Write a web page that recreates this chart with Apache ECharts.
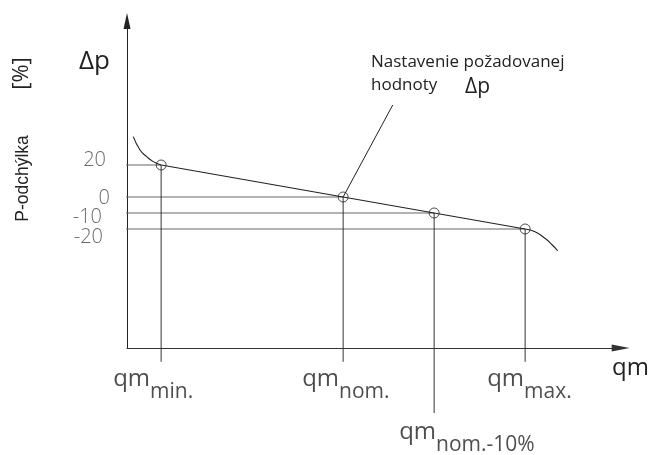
<!DOCTYPE html>
<html>
<head>
<meta charset="utf-8">
<script src="https://cdn.jsdelivr.net/npm/echarts@6/dist/echarts.min.js"></script>
<style>
html, body { margin: 0; padding: 0; background: #fff; }
#chart { width: 656px; height: 455px; }
</style>
</head>
<body>
<div id="chart"></div>
<script>
// flow rates on the qm axis (relative units) and the pressure deviation in %
const flowNames = ['min.', 'nom.', 'nom.-10%', 'max.'];
const flowPos = [3.75, 23.75, 33.75, 43.75];
const deviation = [20, 0, -10, -20];
const devTicks = ['20', '0', '-10', '-20'];
// bending ends of the characteristic
const curveHead = [[0.69, 37.7], [1.43, 29.4], [2.16, 25.2], [2.89, 22.1]];
const curveTail = [[44.84, -21.7], [45.93, -25.8], [46.74, -30.0], [47.33, -33.6]];
// upper end of the leader line for the set-point note
const noteAnchor = [29.2, 57.5];
// lower ends of the drop lines
const dropEnds = [-103, -103, -135, -103];
const guideStart = -1;
const rangeX = [0, 54.25];
const rangeY = [-94.375, 110];

const FONT = '"Open Sans", "DejaVu Sans", sans-serif';
const INK = '#222';

// label placement (pixel nudges)
const tickOffsets = [[-21, -4.5], [-17, 1], [-25, 4.5], [-24, 8]];
const flowOffsets = [[-48, 7], [-41, 7], [-35, 60], [-38, 7]];

const points = flowPos.map((x, i) => [x, deviation[i]]);

const series = [];

// horizontal guides from the deviation scale to each point
points.forEach((p) => {
  series.push({
    type: 'line', clip: false, silent: true, symbol: 'none', z: 2,
    lineStyle: { color: '#666', width: 1.2 },
    data: [[guideStart, p[1]], p]
  });
});

// drop lines from each point to the flow axis
points.forEach((p, i) => {
  series.push({
    type: 'line', clip: false, silent: true, symbol: 'none', z: 2,
    lineStyle: { color: '#333', width: 1 },
    data: [p, [p[0], dropEnds[i]]]
  });
});

// characteristic: straight middle part
series.push({
  type: 'line', clip: false, silent: true, symbol: 'none', z: 3,
  lineStyle: { color: INK, width: 1.1 },
  data: points
});
// characteristic: bending ends
series.push({
  type: 'line', clip: false, silent: true, symbol: 'none', smooth: true, z: 3,
  lineStyle: { color: INK, width: 1.1 },
  data: curveHead.concat([points[0]])
});
series.push({
  type: 'line', clip: false, silent: true, symbol: 'none', smooth: true, z: 3,
  lineStyle: { color: INK, width: 1.1 },
  data: [points[points.length - 1]].concat(curveTail)
});
// leader line of the set-point note
series.push({
  type: 'line', clip: false, silent: true, symbol: 'none', z: 3,
  lineStyle: { color: INK, width: 1 },
  data: [points[1], noteAnchor]
});

// open circles at the operating points
series.push({
  type: 'scatter', clip: false, silent: true, z: 5,
  symbol: 'circle', symbolSize: 10,
  itemStyle: { color: 'rgba(0,0,0,0)', borderColor: INK, borderWidth: 1 },
  data: points
});

// deviation scale labels
series.push({
  type: 'scatter', clip: false, silent: true, z: 6,
  symbol: 'circle', symbolSize: 0,
  label: {
    show: true, position: 'inside', align: 'right', verticalAlign: 'middle',
    fontFamily: FONT, fontWeight: 300, fontSize: 20, color: '#444',
    formatter: (p) => devTicks[p.dataIndex]
  },
  data: deviation.map((v, i) => ({ value: [0, v], label: { offset: tickOffsets[i] } }))
});

// flow labels qm with subscripts
series.push({
  type: 'scatter', clip: false, silent: true, z: 6,
  symbol: 'circle', symbolSize: 0,
  label: {
    show: true, position: 'inside', align: 'left', verticalAlign: 'top',
    formatter: (p) => '{q|qm}{s|' + flowNames[p.dataIndex] + '}',
    rich: {
      q: { fontFamily: FONT, fontSize: 24, color: INK },
      s: { fontFamily: FONT, fontSize: 21, color: INK, padding: [27, 0, 0, 0] }
    }
  },
  data: flowPos.map((x, i) => ({ value: [x, rangeY[0]], label: { offset: flowOffsets[i] } }))
});

const option = {
  animation: false,
  backgroundColor: '#fff',
  grid: { left: 127, right: 656 - 127 - (rangeX[1] - rangeX[0]) * 9.1, top: 21, bottom: 107 },
  xAxis: {
    type: 'value', min: rangeX[0], max: rangeX[1],
    axisLine: { show: true, onZero: false, symbol: ['none', 'triangle'], symbolSize: [7, 18],
      lineStyle: { color: '#333', width: 1 } },
    axisTick: { show: false }, axisLabel: { show: false }, splitLine: { show: false }
  },
  yAxis: {
    type: 'value', min: rangeY[0], max: rangeY[1],
    axisLine: { show: true, onZero: false, symbol: ['none', 'triangle'], symbolSize: [7, 16],
      lineStyle: { color: '#222', width: 1 } },
    axisTick: { show: false }, axisLabel: { show: false }, splitLine: { show: false }
  },
  graphic: [
    { type: 'text', x: 94.5, y: 62, silent: true,
      style: { text: 'Δp', font: '26px ' + FONT, fill: INK, align: 'center', verticalAlign: 'middle' } },
    { type: 'text', x: 22, y: 73.5, rotation: Math.PI / 2, silent: true,
      style: { text: '[%]', font: '22px ' + FONT, fill: INK, align: 'center', verticalAlign: 'middle' } },
    { type: 'text', x: 23, y: 178.5, rotation: Math.PI / 2, silent: true,
      style: { text: 'P-odchýlka', font: '17.5px "Liberation Sans", Arial, sans-serif', fill: INK, align: 'center', verticalAlign: 'middle' } },
    { type: 'text', x: 371, y: 62, silent: true,
      style: { text: 'Nastavenie požadovanej', font: '17px ' + FONT, fill: INK, align: 'left', verticalAlign: 'middle' } },
    { type: 'text', x: 371, y: 85, silent: true,
      style: { text: 'hodnoty', font: '17px ' + FONT, fill: INK, align: 'left', verticalAlign: 'middle' } },
    { type: 'text', x: 465, y: 87, silent: true,
      style: { text: 'Δp', font: '21px ' + FONT, fill: INK, align: 'left', verticalAlign: 'middle' } },
    { type: 'text', x: 612, y: 368, silent: true,
      style: { text: 'qm', font: '24px ' + FONT, fill: INK, align: 'left', verticalAlign: 'middle' } }
  ],
  series: series
};

const chart = echarts.init(document.getElementById('chart'), null, { renderer: 'canvas' });
chart.setOption(option);
</script>
</body>
</html>
